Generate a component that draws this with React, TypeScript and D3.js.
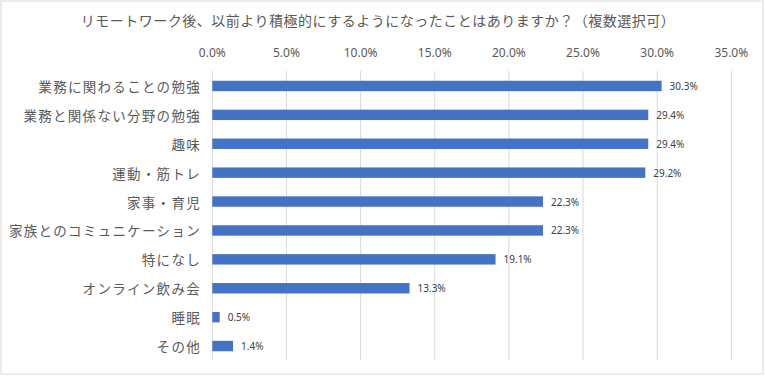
import React from "react";
import * as d3 from "d3";

const title = "リモートワーク後、以前より積極的にするようになったことはありますか？（複数選択可）";
const categories = [
  "業務に関わることの勉強",
  "業務と関係ない分野の勉強",
  "趣味",
  "運動・筋トレ",
  "家事・育児",
  "家族とのコミュニケーション",
  "特になし",
  "オンライン飲み会",
  "睡眠",
  "その他",
];
const values = [30.3, 29.4, 29.4, 29.2, 22.3, 22.3, 19.1, 13.3, 0.5, 1.4];
const ticks = [0, 5, 10, 15, 20, 25, 30, 35];

const W = 765;
const H = 376;

export default function App() {
  const x = d3.scaleLinear().domain([0, 35]).range([212.3, 731.3]);
  const y = d3
    .scaleBand<string>()
    .domain(categories)
    .range([71.5, 360.5])
    .paddingInner(0.64)
    .paddingOuter(0.32);
  const bw = y.bandwidth();
  const jp = "'Noto Sans CJK JP', 'Noto Sans', sans-serif";
  const lat = "'Noto Sans', 'Open Sans', sans-serif";
  return (
    <svg
      width={W}
      height={H}
      style={{ position: "absolute", left: 0, top: 0, background: "#fff" }}
    >
      <rect x={1} y={1} width={762} height={373} fill="#fff" stroke="#d9d9d9" strokeWidth={1} />
      <text
        x={378}
        y={20}
        textAnchor="middle"
        dominantBaseline="central"
        fontFamily={jp}
        fontSize={14}
        letterSpacing={0.5}
        fill="#595959"
      >
        {title}
      </text>
      {ticks.map((t) => (
        <g key={t}>
          <line x1={x(t)} x2={x(t)} y1={71} y2={360.5} stroke="#d9d9d9" strokeWidth={1} />
          <text
            x={x(t)}
            y={52.5}
            textAnchor="middle"
            dominantBaseline="central"
            fontFamily={lat}
            fontSize={12}
            fill="#595959"
          >
            {t.toFixed(1) + "%"}
          </text>
        </g>
      ))}
      {categories.map((c, i) => {
        const yc = (y(c) as number) + bw / 2;
        return (
          <g key={c}>
            <rect x={x(0)} y={y(c)} width={x(values[i]) - x(0)} height={bw} fill="#4472c4" />
            <text
              x={201}
              y={yc}
              textAnchor="end"
              dominantBaseline="central"
              fontFamily={jp}
              fontSize={13.5}
              letterSpacing={1.3}
              fill="#595959"
            >
              {c}
            </text>
            <text
              x={x(values[i]) + 8}
              y={yc}
              dominantBaseline="central"
              fontFamily={lat}
              fontSize={10}
              fill="#404040"
            >
              {values[i].toFixed(1) + "%"}
            </text>
          </g>
        );
      })}
    </svg>
  );
}
